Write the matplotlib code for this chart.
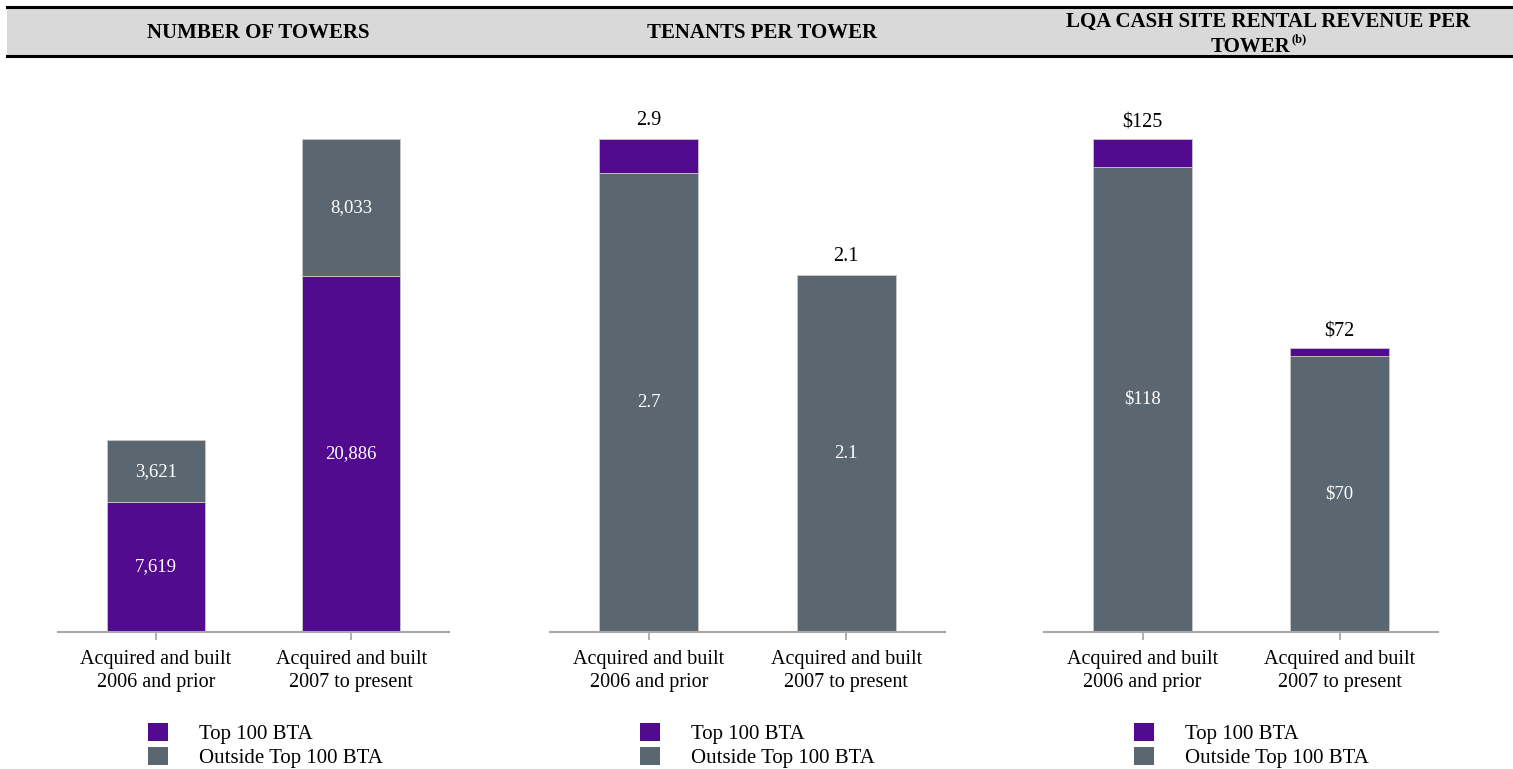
import matplotlib.pyplot as plt
from matplotlib.patches import Rectangle, Patch
from matplotlib.lines import Line2D

plt.rcParams['font.family'] = ['Liberation Serif', 'DejaVu Serif']

# datos
categorias = ['Acquired and built\n2006 and prior', 'Acquired and built\n2007 to present']
titulos = ['NUMBER OF TOWERS', 'TENANTS PER TOWER',
           'LQA CASH SITE RENTAL REVENUE PER', 'TOWER', '(b)']
series = ['Top 100 BTA', 'Outside Top 100 BTA']

towers_outside = [3621, 8033]
towers_top = [7619, 20886]

tenants_outside = [2.7, 2.1]
tenants_total = [2.9, 2.1]

revenue_outside = [118, 70]
revenue_total = [125, 72]

purple = '#520a8e'
gray = '#5b6770'
axis_gray = '#a8a8a8'

W, H = 1513, 769
fig = plt.figure(figsize=(W / 100, H / 100), dpi=100)

# banda de encabezado
fig.patches.append(Rectangle((7 / W, 1 - 56 / H), 1 - 7 / W, 49 / H,
                             transform=fig.transFigure, facecolor='#d9d9d9',
                             edgecolor='none', zorder=0))
for yy in (6.5, 56):
    fig.lines.append(Line2D([7 / W, 1], [1 - yy / H, 1 - yy / H],
                            transform=fig.transFigure, color='black', lw=2.2))

fig.text(258 / W, 1 - 38 / H, titulos[0], ha='center', va='baseline',
         fontsize=15, fontweight='bold')
fig.text(762 / W, 1 - 38 / H, titulos[1], ha='center', va='baseline',
         fontsize=15, fontweight='bold')
fig.text(1268 / W, 1 - 27 / H, titulos[2], ha='center', va='baseline',
         fontsize=15, fontweight='bold')
fig.text(1290 / W, 1 - 52 / H, titulos[3], ha='right', va='baseline',
         fontsize=15, fontweight='bold')
fig.text(1291 / W, 1 - 42 / H, titulos[4], ha='left', va='baseline',
         fontsize=9, fontweight='bold')

paneles = [58, 550, 1044]
anchos = [391, 395, 394]
base_y = 632
alto = 532


def fmt_num(v):
    return f'{v:,}'


for i, (x0, w) in enumerate(zip(paneles, anchos)):
    ax = fig.add_axes([x0 / W, (H - base_y) / H, w / W, alto / H])
    x = [0, 1]
    if i == 0:
        bottom_vals = towers_top
        top_vals = towers_outside
        bottom_col, top_col = purple, gray
        totals = [a + b for a, b in zip(bottom_vals, top_vals)]
    elif i == 1:
        bottom_vals = tenants_outside
        top_vals = [round(t - o, 2) for t, o in zip(tenants_total, tenants_outside)]
        bottom_col, top_col = gray, purple
        totals = tenants_total
    else:
        bottom_vals = revenue_outside
        top_vals = [t - o for t, o in zip(revenue_total, revenue_outside)]
        bottom_col, top_col = gray, purple
        totals = revenue_total

    ax.bar(x, bottom_vals, width=0.5, color=bottom_col, edgecolor='#c8c8c8', lw=0.6)
    ax.bar(x, top_vals, width=0.5, bottom=bottom_vals, color=top_col,
           edgecolor='#c8c8c8', lw=0.6)
    ymax = max(totals) * alto / 493
    ax.set_ylim(0, ymax)
    ax.set_xlim(-0.5, 1.5)

    for j in x:
        if i == 0:
            ax.text(j, bottom_vals[j] / 2, fmt_num(bottom_vals[j]), ha='center',
                    va='center', color='white', fontsize=13.5)
            ax.text(j, bottom_vals[j] + top_vals[j] / 2, fmt_num(top_vals[j]),
                    ha='center', va='center', color='white', fontsize=13.5)
        elif i == 1:
            ax.text(j, bottom_vals[j] / 2, f'{bottom_vals[j]:.1f}', ha='center',
                    va='center', color='white', fontsize=13.5)
            ax.text(j, totals[j] + ymax * 0.016, f'{totals[j]:.1f}', ha='center',
                    va='bottom', color='black', fontsize=14.5)
        else:
            ax.text(j, bottom_vals[j] / 2, f'${bottom_vals[j]}', ha='center',
                    va='center', color='white', fontsize=13.5)
            ax.text(j, totals[j] + ymax * 0.012, f'${totals[j]}', ha='center',
                    va='bottom', color='black', fontsize=14.5)

    for s in ('top', 'right', 'left'):
        ax.spines[s].set_visible(False)
    ax.spines['bottom'].set_color(axis_gray)
    ax.spines['bottom'].set_linewidth(1.5)
    ax.set_yticks([])
    ax.set_xticks(x)
    ax.set_xticklabels(categorias, fontsize=14.5, linespacing=1.3)
    ax.tick_params(axis='x', colors=axis_gray, length=6, width=1.3, pad=7,
                   labelcolor='black')

    handles = [Patch(facecolor=purple, edgecolor='none'),
               Patch(facecolor=gray, edgecolor='none')]
    fig.legend(handles, series, loc='upper left',
               bbox_to_anchor=((x0 + 90) / W, 1 - 723 / H), frameon=False,
               fontsize=15, handlelength=0.95, handleheight=0.95,
               handletextpad=1.5, labelspacing=0.12, borderpad=0,
               borderaxespad=0)

fig.savefig('out.png', dpi=100)
